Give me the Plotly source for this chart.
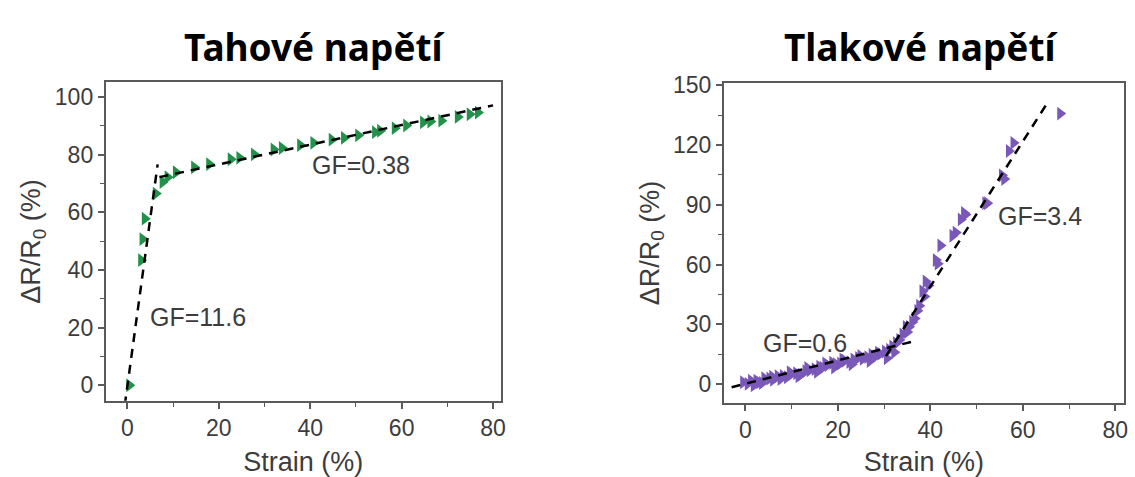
import plotly.graph_objects as go

# ---- Tensile strain (left panel) ----
tension_strain = [0.4, 3.0, 3.3, 3.8, 6.2, 7.7, 8.8, 10.6, 14.6, 17.9, 22.6, 24.5,
                  27.7, 32.0, 33.8, 37.8, 40.7, 44.7, 47.4, 50.5, 54.2, 55.3,
                  58.5, 61.0, 64.7, 66.3, 68.7, 72.3, 74.9, 76.7]
tension_dr = [0.0, 43.4, 50.7, 57.8, 66.5, 70.5, 72.2, 73.9, 75.6, 76.7, 78.4, 78.9,
              80.1, 81.8, 82.3, 83.3, 84.1, 85.2, 85.8, 86.7, 87.8, 88.3,
              89.2, 90.1, 91.2, 91.5, 91.8, 93.1, 94.0, 94.6]
tension_fit1_x = [-0.6, 6.6]
tension_fit1_y = [-7.0, 76.6]
tension_fit2_x = [7.0, 80.0]
tension_fit2_y = [72.2, 97.1]

# ---- Compressive strain (right panel) ----
comp_strain = [-0.5, 0.5, 1.2, 2.4, 3.0, 4.1, 5.2, 6.0, 7.0, 8.1, 9.0, 10.0, 11.0,
               12.0, 13.0, 13.9, 15.0, 16.0, 16.7, 17.8, 18.8, 19.6, 20.5, 21.5,
               22.5, 23.4, 24.4, 25.4, 26.4, 27.3, 28.2, 29.2, 30.2, 31.1, 31.8,
               32.6, 33.3, 34.0, 34.7, 35.4, 36.1, 37.2, 37.6, 38.3, 39.0, 39.6,
               41.2, 41.6, 42.2, 44.8, 45.5, 46.6, 47.3, 47.6, 51.9, 52.3, 55.5,
               56.0, 57.0, 58.0, 68.1,
               1.8, 3.6, 5.8, 7.6, 9.6, 11.5, 13.4, 15.5, 17.3, 19.2, 21.0,
               23.0, 24.9, 26.9, 28.7, 30.6, 32.2, 35.0, 36.6, 38.7]
comp_dr = [1.0, 0.2, 1.8, 1.8, 0.9, 3.0, 2.9, 2.2, 4.0, 4.2, 3.5, 5.2, 5.5,
           4.8, 6.6, 7.0, 7.6, 8.8, 8.3, 9.6, 10.8, 10.0, 10.4, 11.8,
           11.1, 12.4, 13.2, 12.7, 13.6, 14.8, 14.1, 15.2, 16.4, 17.3, 19.0,
           20.6, 22.2, 25.0, 28.8, 28.8, 31.2, 36.9, 39.4, 46.7, 51.6, 49.5,
           62.3, 60.5, 69.6, 74.5, 76.1, 82.7, 85.9, 85.1, 90.8, 90.8, 104.8,
           103.0, 117.0, 121.1, 135.8,
           -0.6, 0.6, 3.8, 2.6, 6.0, 4.0, 8.2, 6.2, 10.4, 8.4, 12.5,
           10.0, 14.2, 11.6, 15.8, 13.0, 16.0, 26.2, 33.0, 44.0]
comp_fit1_x = [-3.0, 36.1]
comp_fit1_y = [-1.5, 21.4]
comp_fit2_x = [30.4, 65.2]
comp_fit2_y = [14.1, 140.7]

GREEN = "#23914a"
PURPLE = "#7a58b8"
AXIS_GREY = "#5a5a5a"
TEXT_GREY = "#3c3c3c"
FONT = "Liberation Sans, Arial, sans-serif"

fig = go.Figure()

dash_line = dict(color="black", width=2.5, dash="9px,7px")

fig.add_trace(go.Scatter(x=tension_strain, y=tension_dr, mode="markers",
                         marker=dict(symbol="triangle-right", size=12, color=GREEN),
                         xaxis="x", yaxis="y", showlegend=False))
fig.add_trace(go.Scatter(x=tension_fit1_x, y=tension_fit1_y, mode="lines",
                         line=dash_line, xaxis="x", yaxis="y", showlegend=False))
fig.add_trace(go.Scatter(x=tension_fit2_x, y=tension_fit2_y, mode="lines",
                         line=dash_line, xaxis="x", yaxis="y", showlegend=False))

fig.add_trace(go.Scatter(x=comp_strain, y=comp_dr, mode="markers",
                         marker=dict(symbol="triangle-right", size=12, color=PURPLE),
                         xaxis="x2", yaxis="y2", showlegend=False))
fig.add_trace(go.Scatter(x=comp_fit1_x, y=comp_fit1_y, mode="lines",
                         line=dash_line, xaxis="x2", yaxis="y2", showlegend=False))
fig.add_trace(go.Scatter(x=comp_fit2_x, y=comp_fit2_y, mode="lines",
                         line=dash_line, xaxis="x2", yaxis="y2", showlegend=False))

axis_common = dict(
    showline=True, mirror=True, linecolor=AXIS_GREY, linewidth=1.5,
    ticks="outside", ticklen=6, tickwidth=1.5, tickcolor=AXIS_GREY,
    showgrid=False, zeroline=False,
    tickfont=dict(family=FONT, size=23, color=TEXT_GREY),
)
minor = dict(ticks="outside", ticklen=4, tickwidth=1.2, tickcolor=AXIS_GREY, showgrid=False)
title_axis_font = dict(family=FONT, size=27, color=TEXT_GREY)

fig.update_layout(
    width=1135, height=477,
    margin=dict(l=0, r=0, t=0, b=0),
    paper_bgcolor="white", plot_bgcolor="white",
    xaxis=dict(domain=[0.0934, 0.4432], anchor="y", range=[-4.8, 81.7],
               tickvals=[0, 20, 40, 60, 80],
               minor=dict(tickvals=[10, 30, 50, 70], **minor),
               title=dict(text="Strain (%)", font=title_axis_font, standoff=14),
               **axis_common),
    yaxis=dict(domain=[0.1635, 0.847], anchor="x", range=[-5.4, 105.1],
               tickvals=[0, 20, 40, 60, 80, 100],
               minor=dict(tickvals=[10, 30, 50, 70, 90], **minor),
               title=dict(text="ΔR/R<sub>0</sub> (%)", font=title_axis_font, standoff=6),
               **axis_common),
    xaxis2=dict(domain=[0.6405, 0.9947], anchor="y2", range=[-4.7, 81.9],
                tickvals=[0, 20, 40, 60, 80],
                minor=dict(tickvals=[10, 30, 50, 70], **minor),
                title=dict(text="Strain (%)", font=title_axis_font, standoff=14),
                **axis_common),
    yaxis2=dict(domain=[0.1593, 0.8449], anchor="x2", range=[-9.3, 151],
                tickvals=[0, 30, 60, 90, 120, 150],
                minor=dict(tickvals=[15, 45, 75, 105, 135], **minor),
                title=dict(text="ΔR/R<sub>0</sub> (%)", font=title_axis_font, standoff=6),
                **axis_common),
)

title_font = dict(family="Noto Sans, Open Sans, sans-serif", size=37, color="black")
fig.add_annotation(text="<b>Tahové napětí</b>", xref="paper", yref="paper",
                   x=316 / 1135, y=1 - 36 / 477, showarrow=False, font=title_font,
                   xanchor="center", yanchor="middle")
fig.add_annotation(text="<b>Tlakové napětí</b>", xref="paper", yref="paper",
                   x=925 / 1135, y=1 - 36 / 477, showarrow=False, font=title_font,
                   xanchor="center", yanchor="middle")

gf_font = dict(family=FONT, size=25, color=TEXT_GREY)
fig.add_annotation(text="GF=11.6", x=4.4, y=23.7, xref="x", yref="y", showarrow=False,
                   xanchor="left", yanchor="middle", font=gf_font)
fig.add_annotation(text="GF=0.38", x=40.0, y=76.3, xref="x", yref="y", showarrow=False,
                   xanchor="left", yanchor="middle", font=gf_font)
fig.add_annotation(text="GF=0.6", x=3.4, y=20.6, xref="x2", yref="y2", showarrow=False,
                   xanchor="left", yanchor="middle", font=gf_font)
fig.add_annotation(text="GF=3.4", x=54.1, y=84.3, xref="x2", yref="y2", showarrow=False,
                   xanchor="left", yanchor="middle", font=gf_font)

fig.write_html("out.html")
